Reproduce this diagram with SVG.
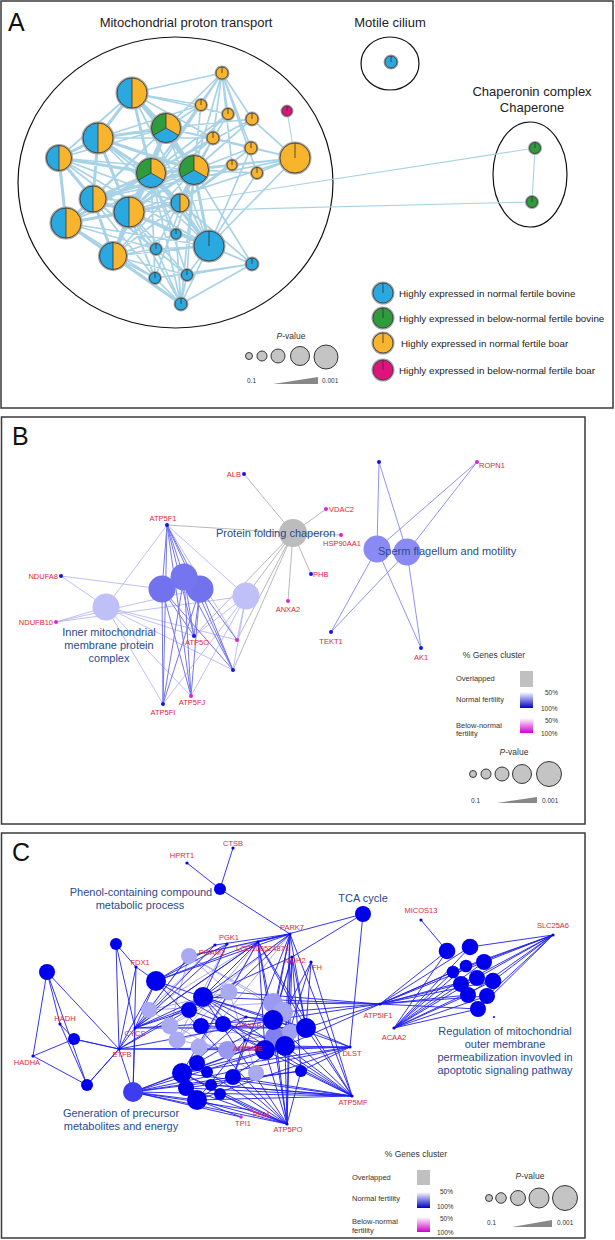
<svg xmlns="http://www.w3.org/2000/svg" xmlns:xlink="http://www.w3.org/1999/xlink" width="615" height="1240" viewBox="0 0 615 1240">
<style>
.frame{fill:none;stroke:#3a3a3a;stroke-width:1.5}
.clu{fill:none;stroke:#111;stroke-width:1.2}
.big{font-family:"Liberation Sans",Arial,sans-serif;font-size:25px;fill:#111}
.ttl{font-family:"Liberation Sans",Arial,sans-serif;font-size:13px;fill:#222}
.leg{font-family:"Liberation Sans",Arial,sans-serif;font-size:9.8px;fill:#222}
.grp{font-family:"Liberation Sans",Arial,sans-serif;font-size:11px;fill:#2b4a8c}
.gene{font-family:"Liberation Sans",Arial,sans-serif;font-size:7.5px;fill:#e0253a}
.lg{font-family:"Liberation Sans",Arial,sans-serif;font-size:7.5px;fill:#333}
.lgh{font-family:"Liberation Sans",Arial,sans-serif;font-size:8.5px;fill:#333}
.sm{font-family:"Liberation Sans",Arial,sans-serif;font-size:6.5px;fill:#333}
.pc{fill:#c4c4c4;stroke:#222;stroke-width:0.9}
.ramp{fill:#888}
.ea{fill:none;stroke:#a8d3e6;stroke-linecap:round}
.bd{fill:#1414e6}
.bm{fill:#e020d8}
.cd{fill:#0000ee}
.cl{fill:#aaaaf2}
.ring{fill:#fff;stroke:#a3a3a3;stroke-width:3}
.ol{fill:none;stroke:#333;stroke-width:0.8}
.blue{fill:#2aa8e0}.orange{fill:#f7b42c}.green{fill:#2e9c3c}.mag{fill:#e0137c}
</style>
<defs>
<linearGradient id="gB" x1="0" y1="0" x2="0" y2="1"><stop offset="0" stop-color="#ffffff"/><stop offset="1" stop-color="#0000c8"/></linearGradient>
<linearGradient id="gM" x1="0" y1="0" x2="0" y2="1"><stop offset="0" stop-color="#ffffff"/><stop offset="1" stop-color="#d000c8"/></linearGradient>
<g id="half">
<circle r="15" class="ring" vector-effect="non-scaling-stroke"/>
<path d="M0-15A15 15 0 0 0 0 15Z" class="blue"/>
<path d="M0-15A15 15 0 0 1 0 15Z" class="orange"/>
<circle r="15" class="ol" vector-effect="non-scaling-stroke"/>
<line x1="0" y1="-15" x2="0" y2="15" class="ol" vector-effect="non-scaling-stroke"/>
</g>
<g id="tri">
<circle r="15" class="ring" vector-effect="non-scaling-stroke"/>
<path d="M0 0L0-15A15 15 0 0 1 12.99 7.5Z" class="orange"/>
<path d="M0 0L12.99 7.5A15 15 0 0 1-12.99 7.5Z" class="blue"/>
<path d="M0 0L-12.99 7.5A15 15 0 0 1 0-15Z" class="green"/>
<circle r="15" class="ol" vector-effect="non-scaling-stroke"/>
<path d="M0-15L0 0L12.99 7.5M0 0L-12.99 7.5" class="ol" vector-effect="non-scaling-stroke"/>
</g>
<g id="one">
<circle r="15" class="ring" vector-effect="non-scaling-stroke"/>
<circle r="15"/>
<circle r="15" class="ol" vector-effect="non-scaling-stroke"/>
<line x1="0" y1="0" x2="0" y2="-15" class="ol" vector-effect="non-scaling-stroke"/>
</g>
</defs>
<rect width="615" height="1240" fill="#fff"/>

<!-- ============ PANEL A ============ -->
<rect class="frame" x="1" y="1" width="612" height="407"/>
<text class="big" x="8" y="31">A</text>
<text class="ttl" x="186" y="27" text-anchor="middle">Mitochondrial proton transport</text>
<text class="ttl" x="390" y="27" text-anchor="middle">Motile cilium</text>
<text class="ttl" x="532" y="96" text-anchor="middle">Chaperonin complex</text>
<text class="ttl" x="532" y="112" text-anchor="middle">Chaperone</text>
<ellipse class="clu" cx="175.5" cy="182.5" rx="157.5" ry="145.5"/>
<ellipse class="clu" cx="390" cy="63.5" rx="29" ry="26.5"/>
<ellipse class="clu" cx="530" cy="174.5" rx="37" ry="52.5"/>

<g id="connectors">
<path class="ea" stroke-width="1.1" d="M180 203L535 148M129 212L532 202M535 148L532 202M287 111L295 158"/>
<path class="ea" stroke-width="3" d="M132 93L98 138M132 93L166 128M98 138L151 173M151 173L194 170M166 128L194 170M166 128L151 173M151 173L129 212M93 199L129 212M129 212L66 223M66 223L113 256M93 199L66 223M98 138L59 158M59 158L93 199M151 173L93 199M194 170L129 212M194 170L180 203M129 212L113 256M209 246L194 170M151 173L209 246M98 138L194 170M132 93L151 173M93 199L113 256M59 158L66 223M98 138L93 199M98 138L129 212M129 212L180 203M151 173L180 203M166 128L129 212M132 93L194 170M98 138L166 128M59 158L151 173M66 223L151 173M113 256L151 173M93 199L194 170M129 212L209 246M113 256L181 304M66 223L181 304"/>
<path class="ea" stroke-width="1.7" d="M132 93L213 138M222 73L166 128M222 73L194 170M222 73L151 173M222 73L201 105M222 73L228 114M222 73L252 119M222 73L213 138M222 73L251 148M222 73L232 165M222 73L257 173M222 73L132 93M201 105L166 128M201 105L194 170M228 114L194 170M252 119L194 170M213 138L151 173M251 148L194 170M295 158L194 170M295 158L166 128M295 158L251 148M295 158L257 173M295 158L252 119M295 158L213 138M295 158L232 165M295 158L151 173M232 165L151 173M257 173L194 170M166 128L213 138M166 128L251 148M252 119L166 128M228 114L151 173M201 105L151 173M59 158L129 212M59 158L132 93M59 158L166 128M66 223L194 170M66 223L155 278M113 256L155 278M113 256L156 249M113 256L187 275M93 199L156 249M93 199L155 278M129 212L155 278M129 212L181 304M129 212L156 249M129 212L187 275M180 203L209 246M180 203L252 264M209 246L252 264M209 246L187 275M209 246L156 249M209 246L181 304M252 264L181 304M252 264L187 275M252 264L155 278M252 264L194 170M252 264L129 212M155 278L181 304M187 275L181 304M156 249L181 304M176 234L209 246M176 234L194 170M176 234L151 173M176 234L129 212M176 234L113 256M176 234L181 304M194 170L181 304M151 173L181 304M151 173L155 278M194 170L155 278M166 128L209 246M98 138L209 246M132 93L209 246M93 199L209 246M66 223L209 246M113 256L209 246M59 158L194 170M113 256L194 170M98 138L180 203M93 199L180 203M66 223L180 203M113 256L180 203M59 158L180 203M213 138L180 203M251 148L180 203M232 165L180 203M257 173L209 246M295 158L209 246M251 148L209 246M252 119L151 173M213 138L129 212M201 105L129 212M228 114L129 212M295 158L129 212M295 158L93 199M132 93L201 105M98 138L201 105M132 93L228 114M98 138L213 138M66 223L166 128M93 199L166 128M113 256L166 128M59 158L209 246M98 138L155 278M93 199L187 275M66 223L156 249M129 212L252 264M151 173L187 275M194 170L187 275M194 170L156 249"/>
<!-- panel B edges -->
<path fill="none" stroke="#b0b0b0" stroke-width="0.9" d="M293 533L244 474M293 533L326 509M293 533L341 535M293 533L311 574M293 533L288 601M293 533L167 525M293 533L194 636M293 533L237 640M293 533L233 670M293 533L246 596"/>
<path fill="none" stroke="#b8b8f6" stroke-width="0.9" d="M106 607L61 576M106 607L56 622M106 607L167 525M106 607L163 704M106 607L194 636M106 607L237 640M106 607L233 670M106 607L191 696M61 576L162 589M56 622L246 596M246 596L167 525M246 596L194 636M246 596L237 640M246 596L233 670M246 596L191 696M246 596L163 704M56 622L200 589M167 525L237 640"/>
<path fill="none" stroke="#7676ea" stroke-width="1" d="M167 525L162 589M167 525L184 577M167 525L200 589M167 525L163 704M167 525L191 696M167 525L194 636M167 525L233 670M162 589L163 704M162 589L191 696M162 589L194 636M162 589L233 670M184 577L163 704M184 577L191 696M184 577L194 636M184 577L233 670M200 589L163 704M200 589L191 696M200 589L194 636M200 589L233 670M200 589L237 640"/>
<path fill="none" stroke="#8686ee" stroke-width="0.9" d="M377 549L379 462M377 549L477 462M377 549L331 632M377 549L421 648M407 552L379 462M407 552L477 462M407 552L331 632M407 552L421 648"/>
<!-- panel C edges -->
<path fill="none" stroke="#a2a2f2" stroke-width="0.9" d="M189 956L149 1010M189 956L170 1026M189 956L229 992M189 956L273 1003M189 956L283 1012M189 956L290 934M189 956L258 942M229 992L149 1010M229 992L170 1026M229 992L177 1040M229 992L199 1047M229 992L256 1073M273 1003L149 1010M283 1012L177 1040M275 1037L170 1026M290 1032L199 1047M256 1073L149 1010M227 1050L177 1040M258 942L149 1010M258 942L177 1040M258 942L199 1047M227 944L177 1040M215 945L149 1010M290 934L199 1047M290 934L170 1026"/>
<path fill="none" stroke="#1e1eee" stroke-width="0.9" d="M220 889L187 863M220 889L233 848M220 889L290 934M363 914L258 942M363 914L292 957M363 914L350 1047M290 934L189 956M290 934L203 997M290 934L229 992M290 934L156 981M290 934L306 1028M290 934L285 1046M290 934L265 1050M290 934L287 1124M290 934L352 1096M290 934L273 1020M290 934L233 1077M290 934L258 942M290 934L215 945M258 942L156 981M258 942L203 997M258 942L182 1073M258 942L265 1050M258 942L287 1124M258 942L352 1096M258 942L273 1020M258 942L306 1028M258 942L135 1028M292 957L273 1020M292 957L306 1028M292 957L285 1046M292 957L287 1124M292 957L265 1050M292 957L301 1071M292 957L203 997M311 962L306 1028M311 962L285 1046M311 962L352 1096M311 962L265 1050M227 944L156 981M227 944L135 1028M227 944L203 997M215 945L135 1028M215 945L156 981M380 1004L273 1003M380 1004L283 1012M380 1004L273 1020M380 1004L306 1028M380 1004L229 992M380 1004L203 997M380 1004L285 1046M380 1004L447 951M380 1004L470 947M380 1004L484 962M380 1004L453 972M380 1004L466 966M380 1004L477 978M380 1004L493 981M380 1004L461 984M380 1004L468 995M380 1004L487 996M380 1004L478 1009M394 1028L447 951M394 1028L470 947M394 1028L484 962M394 1028L453 972M394 1028L466 966M394 1028L477 978M394 1028L493 981M394 1028L461 984M394 1028L468 995M394 1028L487 996M394 1028L478 1009M553 935L470 947M553 935L484 962M553 935L493 981M553 935L487 996M553 935L478 1009M553 935L468 995M553 935L461 984M553 935L453 972M553 935L466 966M553 935L477 978M421 920L447 951M350 1047L306 1028M350 1047L285 1046M350 1047L301 1071M350 1047L119 1049M350 1047L265 1050M350 1047L197 1100M350 1047L182 1073M350 1047L273 1020M352 1096L306 1028M352 1096L285 1046M352 1096L301 1071M352 1096L182 1073M352 1096L197 1100M352 1096L233 1077M352 1096L265 1050M352 1096L273 1020M352 1096L133 1092M352 1096L186 1088M352 1096L211 1085M352 1096L156 981M352 1096L203 997M287 1124L182 1073M287 1124L197 1100M287 1124L186 1088M287 1124L233 1077M287 1124L265 1050M287 1124L285 1046M287 1124L273 1020M287 1124L301 1071M287 1124L133 1092M287 1124L207 1072M287 1124L220 1094M287 1124L203 997M287 1124L156 981M133 1092L119 1049M133 1092L135 1028M133 1092L136 967M133 1092L182 1073M133 1092L197 1100M133 1092L301 1071M133 1092L350 1047M133 1092L241 1117M133 1092L251 1110M133 1092L306 1028M133 1092L285 1046M133 1092L233 1077M119 1049L47 972M119 1049L74 1039M119 1049L87 1085M119 1049L116 944M119 1049L136 967M119 1049L156 981M119 1049L203 997M119 1049L265 1050M119 1049L273 1020M119 1049L135 1028M119 1049L189 1010M135 1028L116 944M135 1028L156 981M135 1028L189 956M135 1028L203 997M135 1028L229 992M135 1028L273 1020M135 1028L306 1028M135 1028L189 1010M135 1028L258 942M136 967L116 944M136 967L156 981M47 972L60 1024M47 972L33 1056M47 972L87 1085M60 1024L74 1039M60 1024L87 1085M33 1056L74 1039M33 1056L87 1085M74 1039L119 1049M87 1085L119 1049M246 1017L203 997M246 1017L223 1024M246 1017L273 1020M246 1017L182 1073M246 1017L306 1028M245 1040L203 997M245 1040L265 1050M245 1040L285 1046M245 1040L197 1100M245 1040L233 1077M156 981L203 997M203 997L273 1020M203 997L306 1028M182 1073L306 1028M197 1100L306 1028M197 1063L273 1020M189 1010L285 1046M201 1026L306 1028M223 1024L265 1050M182 1073L285 1046M186 1088L301 1071M211 1085L352 1096M241 1117L197 1100M251 1110L182 1073M251 1110L287 1124"/>
</g>

<g id="nodesA">
<use href="#half" transform="translate(132 93)"/>
<use href="#one" class="orange" transform="translate(222 73) scale(0.4)"/>
<use href="#one" class="orange" transform="translate(201 105) scale(0.367)"/>
<use href="#one" class="orange" transform="translate(228 114) scale(0.367)"/>
<use href="#one" class="orange" transform="translate(252 119) scale(0.4)"/>
<use href="#one" class="mag" transform="translate(287 111) scale(0.333)"/>
<use href="#tri" transform="translate(166 128) scale(0.967)"/>
<use href="#half" transform="translate(98 138)"/>
<use href="#one" class="orange" transform="translate(213 138) scale(0.4)"/>
<use href="#one" class="orange" transform="translate(251 148) scale(0.4)"/>
<use href="#one" class="orange" transform="translate(295 158)"/>
<use href="#half" transform="translate(59 158) scale(0.833)"/>
<use href="#tri" transform="translate(151 173) scale(0.967)"/>
<use href="#tri" transform="translate(194 170) scale(0.967)"/>
<use href="#one" class="orange" transform="translate(232 165) scale(0.333)"/>
<use href="#one" class="orange" transform="translate(257 173) scale(0.367)"/>
<use href="#half" transform="translate(93 199) scale(0.867)"/>
<use href="#half" transform="translate(129 212)"/>
<use href="#half" transform="translate(180 203) scale(0.6)"/>
<use href="#half" transform="translate(66 223)"/>
<use href="#one" class="blue" transform="translate(176 234) scale(0.333)"/>
<use href="#one" class="blue" transform="translate(209 246)"/>
<use href="#half" transform="translate(113 256) scale(0.9)"/>
<use href="#one" class="blue" transform="translate(156 249) scale(0.367)"/>
<use href="#one" class="blue" transform="translate(252 264) scale(0.4)"/>
<use href="#one" class="blue" transform="translate(155 278) scale(0.367)"/>
<use href="#one" class="blue" transform="translate(187 275) scale(0.367)"/>
<use href="#one" class="blue" transform="translate(181 304) scale(0.4)"/>
<use href="#one" class="blue" transform="translate(391 62) scale(0.4)"/>
<use href="#one" class="green" transform="translate(535 148) scale(0.367)"/>
<use href="#one" class="green" transform="translate(532 202) scale(0.367)"/>
</g>

<g id="legendA">
<use href="#one" class="blue" transform="translate(383 293) scale(0.667)"/>
<use href="#one" class="green" transform="translate(383 318) scale(0.667)"/>
<use href="#one" class="orange" transform="translate(383 343) scale(0.667)"/>
<use href="#one" class="mag" transform="translate(383 370) scale(0.667)"/>
<text class="leg" x="399" y="296.5">Highly expressed in normal fertile bovine</text>
<text class="leg" x="399" y="321.5">Highly expressed in below-normal fertile bovine</text>
<text class="leg" x="401" y="346.5">Highly expressed in normal fertile boar</text>
<text class="leg" x="399" y="373.5">Highly expressed in below-normal fertile boar</text>
<text class="lgh" x="291" y="339" text-anchor="middle"><tspan font-style="italic">P</tspan>-value</text>
<circle class="pc" cx="249" cy="356" r="3.5"/>
<circle class="pc" cx="262" cy="356" r="5"/>
<circle class="pc" cx="278" cy="356" r="7"/>
<circle class="pc" cx="300" cy="356" r="9.5"/>
<circle class="pc" cx="326" cy="357" r="12"/>
<text class="sm" x="247" y="382.5">0.1</text>
<polygon class="ramp" points="273,384 318,384 318,377"/>
<text class="sm" x="322" y="382.5">0.001</text>
</g>

<!-- ============ PANEL B ============ -->
<rect class="frame" x="1.5" y="417" width="583.5" height="407"/>
<text class="big" x="12" y="445">B</text>
<g id="nodesB">
<circle cx="106" cy="607" r="13.5" fill="#c0c0f8"/>
<circle cx="246" cy="596" r="13.5" fill="#c0c0f8"/>
<circle cx="162" cy="589" r="13.5" fill="#7272ee"/>
<circle cx="200" cy="589" r="13.5" fill="#7272ee"/>
<circle cx="184" cy="577" r="13.5" fill="#7575ef"/>
<circle cx="293" cy="533" r="14" fill="#bcbcbc"/>
<circle cx="377" cy="549" r="13.5" fill="#8a8af4"/>
<circle cx="407" cy="552" r="13.5" fill="#8a8af4"/>
<circle class="bd" cx="244" cy="474" r="2"/>
<circle class="bd" cx="167" cy="525" r="2"/>
<circle class="bm" cx="326" cy="509" r="2"/>
<circle class="bm" cx="341" cy="535" r="2"/>
<circle class="bd" cx="311" cy="574" r="2"/>
<circle class="bm" cx="288" cy="601" r="2"/>
<circle class="bd" cx="61" cy="576" r="2"/>
<circle class="bm" cx="56" cy="622" r="2"/>
<circle class="bd" cx="194" cy="636" r="2"/>
<circle class="bm" cx="237" cy="640" r="2"/>
<circle class="bd" cx="233" cy="670" r="2"/>
<circle class="bm" cx="191" cy="696" r="2"/>
<circle class="bd" cx="163" cy="704" r="2"/>
<circle class="bd" cx="379" cy="462" r="2"/>
<circle class="bm" cx="477" cy="462" r="2"/>
<circle class="bd" cx="331" cy="632" r="2"/>
<circle class="bd" cx="421" cy="648" r="2"/>
</g>
<g id="labelsB">
<text class="gene" x="241" y="477" text-anchor="end">ALB</text>
<text class="gene" x="163" y="521" text-anchor="middle">ATP5F1</text>
<text class="gene" x="329" y="512">VDAC2</text>
<text class="gene" x="323" y="546">HSP90AA1</text>
<text class="gene" x="313" y="577">PHB</text>
<text class="gene" x="288" y="612" text-anchor="middle">ANXA2</text>
<text class="gene" x="58" y="579" text-anchor="end">NDUFA8</text>
<text class="gene" x="53" y="625" text-anchor="end">NDUFB10</text>
<text class="gene" x="197" y="645" text-anchor="middle">ATP5O</text>
<text class="gene" x="192" y="705" text-anchor="middle">ATP5FJ</text>
<text class="gene" x="163" y="715" text-anchor="middle">ATP5FI</text>
<text class="gene" x="479" y="468">ROPN1</text>
<text class="gene" x="331" y="644" text-anchor="middle">TEKT1</text>
<text class="gene" x="421" y="660" text-anchor="middle">AK1</text>
<text class="grp" x="216" y="537">Protein folding chaperon</text>
<text class="grp" x="378" y="555">Sperm flagellum and motility</text>
<text class="grp" x="109" y="636" text-anchor="middle">Inner mitochondrial</text>
<text class="grp" x="109" y="649" text-anchor="middle">membrane protein</text>
<text class="grp" x="109" y="662" text-anchor="middle">complex</text>
</g>
<g id="legendB">
<text class="lgh" x="494" y="658" text-anchor="middle">% Genes cluster</text>
<text class="lg" x="456" y="681">Overlapped</text>
<text class="lg" x="456" y="702">Normal fertility</text>
<text class="lg" x="456" y="728">Below-normal</text>
<text class="lg" x="456" y="736">fertility</text>
<rect x="520" y="671" width="13" height="16" fill="#c0c0c0"/>
<rect x="520" y="692" width="13" height="16" fill="url(#gB)"/>
<rect x="520" y="718" width="13" height="15" fill="url(#gM)"/>
<text class="sm" x="545" y="695">50%</text>
<text class="sm" x="541" y="711">100%</text>
<text class="sm" x="545" y="723">50%</text>
<text class="sm" x="541" y="736">100%</text>
<text class="lgh" x="514" y="755" text-anchor="middle"><tspan font-style="italic">P</tspan>-value</text>
<circle class="pc" cx="473" cy="774" r="3.5"/>
<circle class="pc" cx="486" cy="774" r="5"/>
<circle class="pc" cx="502" cy="774" r="7"/>
<circle class="pc" cx="522" cy="774" r="9.5"/>
<circle class="pc" cx="549" cy="774" r="12.5"/>
<text class="sm" x="471" y="803">0.1</text>
<polygon class="ramp" points="497,803 537,803 537,797"/>
<text class="sm" x="542" y="803">0.001</text>
</g>

<!-- ============ PANEL C ============ -->
<rect class="frame" x="1.5" y="833" width="583.5" height="405"/>
<text class="big" x="12" y="861">C</text>
<g id="nodesC">
<circle class="cl" cx="189" cy="956" r="8"/>
<circle class="cl" cx="149" cy="1010" r="8"/>
<circle class="cl" cx="229" cy="992" r="8.5"/>
<circle class="cl" cx="170" cy="1026" r="8.5"/>
<circle class="cl" cx="177" cy="1040" r="8.5"/>
<circle class="cl" cx="199" cy="1047" r="8.5"/>
<circle cx="227" cy="1050" r="9" fill="#9898f0"/>
<circle cx="273" cy="1003" r="10" fill="#9a9af2"/>
<circle cx="283" cy="1012" r="10" fill="#a4a4f2"/>
<circle cx="275" cy="1037" r="10" fill="#8080ee"/>
<circle cx="290" cy="1032" r="8" fill="#a0a0f0"/>
<circle class="cl" cx="256" cy="1073" r="8"/>
<circle class="cd" cx="156" cy="981" r="10"/>
<circle class="cd" cx="203" cy="997" r="10"/>
<circle class="cd" cx="189" cy="1010" r="8"/>
<circle class="cd" cx="201" cy="1026" r="8"/>
<circle class="cd" cx="223" cy="1024" r="8"/>
<circle class="cd" cx="273" cy="1020" r="10"/>
<circle class="cd" cx="306" cy="1028" r="10"/>
<circle class="cd" cx="265" cy="1050" r="10"/>
<circle class="cd" cx="285" cy="1046" r="10"/>
<circle class="cd" cx="301" cy="1071" r="6"/>
<circle class="cd" cx="197" cy="1063" r="8"/>
<circle class="cd" cx="182" cy="1073" r="10"/>
<circle class="cd" cx="207" cy="1072" r="6"/>
<circle class="cd" cx="233" cy="1077" r="8"/>
<circle class="cd" cx="186" cy="1088" r="8"/>
<circle class="cd" cx="211" cy="1085" r="6"/>
<circle class="cd" cx="220" cy="1094" r="6"/>
<circle class="cd" cx="197" cy="1100" r="10"/>
<circle class="cd" cx="116" cy="944" r="6"/>
<circle class="cd" cx="47" cy="972" r="8"/>
<circle class="cd" cx="74" cy="1039" r="6"/>
<circle class="cd" cx="87" cy="1085" r="6"/>
<circle cx="133" cy="1092" r="10" fill="#3c3cf0"/>
<circle class="cd" cx="220" cy="889" r="6"/>
<circle class="cd" cx="363" cy="914" r="8"/>
<circle class="cd" cx="447" cy="951" r="8.3"/>
<circle class="cd" cx="470" cy="947" r="8.3"/>
<circle class="cd" cx="484" cy="962" r="8"/>
<circle class="cd" cx="453" cy="972" r="6.3"/>
<circle class="cd" cx="466" cy="966" r="6.3"/>
<circle class="cd" cx="477" cy="978" r="8"/>
<circle class="cd" cx="493" cy="981" r="8.3"/>
<circle class="cd" cx="461" cy="984" r="8"/>
<circle class="cd" cx="468" cy="995" r="8"/>
<circle class="cd" cx="487" cy="996" r="8"/>
<circle class="cd" cx="478" cy="1009" r="8"/>
<circle class="cd" cx="494" cy="1017" r="1"/>
<circle class="cd" cx="187" cy="863" r="1.6"/>
<circle class="cd" cx="233" cy="848" r="1.6"/>
<circle class="cd" cx="290" cy="934" r="1.6"/>
<circle class="cd" cx="258" cy="942" r="1.6"/>
<circle class="cd" cx="227" cy="944" r="1.6"/>
<circle class="cd" cx="215" cy="945" r="1.6"/>
<circle class="cd" cx="292" cy="957" r="1.6"/>
<circle class="cd" cx="311" cy="962" r="1.6"/>
<circle class="cd" cx="136" cy="967" r="1.6"/>
<circle class="cd" cx="60" cy="1024" r="1.6"/>
<circle class="cd" cx="33" cy="1056" r="1.6"/>
<circle class="cd" cx="119" cy="1049" r="1.6"/>
<circle class="cd" cx="135" cy="1028" r="1.6"/>
<circle class="cd" cx="246" cy="1017" r="1.6"/>
<circle class="cd" cx="245" cy="1040" r="1.6"/>
<circle class="bm" cx="241" cy="1117" r="1.8"/>
<circle class="bm" cx="251" cy="1110" r="1.6"/>
<circle class="cd" cx="287" cy="1124" r="1.6"/>
<circle class="cd" cx="352" cy="1096" r="1.6"/>
<circle class="cd" cx="350" cy="1047" r="1.6"/>
<circle class="cd" cx="380" cy="1004" r="1.6"/>
<circle class="cd" cx="394" cy="1028" r="1.6"/>
<circle class="cd" cx="421" cy="920" r="1.6"/>
<circle class="cd" cx="553" cy="935" r="1.6"/>
</g>
<g id="labelsC">
<text class="gene" x="182" y="858" text-anchor="middle">HPRT1</text>
<text class="gene" x="233" y="846" text-anchor="middle">CTSB</text>
<text class="gene" x="292" y="930" text-anchor="middle">PARK7</text>
<text class="gene" x="229" y="940" text-anchor="middle">PGK1</text>
<text class="gene" x="212" y="955" text-anchor="middle">PGAM2</text>
<text class="gene" x="236" y="951">LOC100524873</text>
<text class="gene" x="295" y="963" text-anchor="middle">MDH2</text>
<text class="gene" x="312" y="970">FH</text>
<text class="gene" x="140" y="965" text-anchor="middle">FDX1</text>
<text class="gene" x="65" y="1021" text-anchor="middle">HADH</text>
<text class="gene" x="27" y="1065" text-anchor="middle">HADHA</text>
<text class="gene" x="122" y="1057" text-anchor="middle">ETFB</text>
<text class="gene" x="135" y="1036" text-anchor="middle">CYCS</text>
<text class="gene" x="236" y="1028">COX5B</text>
<text class="gene" x="233" y="1051">ATP5ME</text>
<text class="gene" x="243" y="1126" text-anchor="middle">TPI1</text>
<text class="gene" x="253" y="1117">PKM</text>
<text class="gene" x="288" y="1132" text-anchor="middle">ATP5PO</text>
<text class="gene" x="353" y="1105" text-anchor="middle">ATP5MF</text>
<text class="gene" x="352" y="1056" text-anchor="middle">DLST</text>
<text class="gene" x="378" y="1018" text-anchor="middle">ATP5IF1</text>
<text class="gene" x="394" y="1040" text-anchor="middle">ACAA2</text>
<text class="gene" x="421" y="913" text-anchor="middle">MICOS13</text>
<text class="gene" x="553" y="928" text-anchor="middle">SLC25A6</text>
<text class="grp" x="141" y="896" text-anchor="middle">Phenol-containing compound</text>
<text class="grp" x="140" y="909" text-anchor="middle">metabolic process</text>
<text class="grp" x="363" y="902" text-anchor="middle">TCA cycle</text>
<text class="grp" x="121" y="1117" text-anchor="middle">Generation of precursor</text>
<text class="grp" x="121" y="1130" text-anchor="middle">metabolites and energy</text>
<text class="grp" x="505" y="1035" text-anchor="middle">Regulation of mitochondrial</text>
<text class="grp" x="505" y="1048" text-anchor="middle">outer membrane</text>
<text class="grp" x="505" y="1061" text-anchor="middle">permeabilization invovled in</text>
<text class="grp" x="505" y="1074" text-anchor="middle">apoptotic signaling pathway</text>
</g>
<g id="legendC">
<text class="lgh" x="416" y="1157" text-anchor="middle">% Genes cluster</text>
<text class="lg" x="352" y="1180">Overlapped</text>
<text class="lg" x="352" y="1201">Normal fertility</text>
<text class="lg" x="352" y="1224">Below-normal</text>
<text class="lg" x="352" y="1233">fertility</text>
<rect x="417" y="1170" width="13" height="15" fill="#c0c0c0"/>
<rect x="417" y="1192" width="13" height="16" fill="url(#gB)"/>
<rect x="417" y="1217" width="13" height="15" fill="url(#gM)"/>
<text class="sm" x="440" y="1194">50%</text>
<text class="sm" x="437" y="1209">100%</text>
<text class="sm" x="440" y="1221">50%</text>
<text class="sm" x="437" y="1235">100%</text>
<text class="lgh" x="530" y="1179" text-anchor="middle"><tspan font-style="italic">P</tspan>-value</text>
<circle class="pc" cx="489" cy="1198" r="3.5"/>
<circle class="pc" cx="501" cy="1198" r="5.3"/>
<circle class="pc" cx="518" cy="1198" r="7.5"/>
<circle class="pc" cx="539" cy="1198" r="10"/>
<circle class="pc" cx="565" cy="1198" r="12.5"/>
<text class="sm" x="487" y="1225">0.1</text>
<polygon class="ramp" points="512,1227 552,1227 552,1220"/>
<text class="sm" x="557" y="1225">0.001</text>
</g>
</svg>
